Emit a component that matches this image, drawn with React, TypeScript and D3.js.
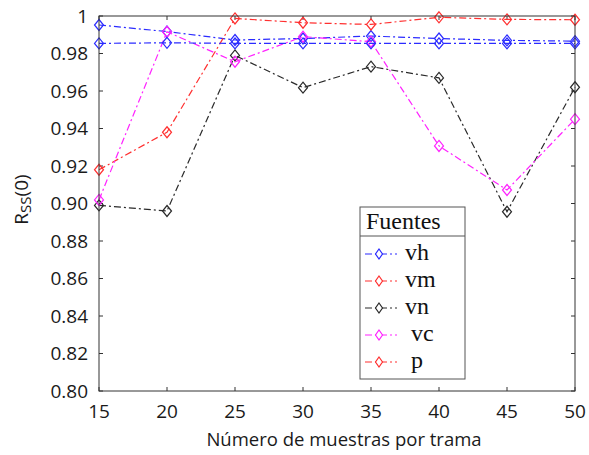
import React from "react";
import * as d3 from "d3";

const xValues = [15, 20, 25, 30, 35, 40, 45, 50];
const yTicks = [0.8, 0.82, 0.84, 0.86, 0.88, 0.9, 0.92, 0.94, 0.96, 0.98, 1.0];

const vh = [0.9952, 0.9917, 0.9872, 0.988, 0.9893, 0.988, 0.987, 0.9866];
const vm = [0.918, 0.938, 0.9987, 0.9964, 0.9955, 0.9993, 0.9982, 0.998];
const vn = [0.899, 0.896, 0.979, 0.9618, 0.973, 0.967, 0.8956, 0.962];
const vc = [0.9019, 0.9916, 0.9756, 0.989, 0.9863, 0.9307, 0.9072, 0.945];
const p = [0.9854, 0.9857, 0.9854, 0.9854, 0.9854, 0.9854, 0.9854, 0.9854];

const seriesNames = ["vh", "vm", "vn", "vc", "p"];
const seriesValues = [vh, vm, vn, vc, p];
const lineColors = ["#2b2bff", "#ff3030", "#2a2a2a", "#ff22ff", "#2b2bff"];
const legendLabels = ["vh", "vm", "vn", " vc", " p"];
const legendColors = ["#2b2bff", "#ff3030", "#2a2a2a", "#ff22ff", "#ff3030"];

const W = 589;
const H = 455;
const margin = { top: 16, right: 14, bottom: 64, left: 99 };
const sans = "'Open Sans', sans-serif";
const serif = "'Liberation Serif', 'Times New Roman', serif";
const dash = "7,3,2,3";
const diamond = (w: number, h: number) => `M0,${-h}L${w},0L0,${h}L${-w},0Z`;

export default function App() {
  const x = d3.scaleLinear().domain([15, 50]).range([margin.left, W - margin.right]);
  const y = d3.scaleLinear().domain([0.8, 1.0]).range([H - margin.bottom, margin.top]);
  const [x0, x1] = x.range();
  const [y0, y1] = y.range();
  const line = d3
    .line<number>()
    .x((_, i) => x(xValues[i]))
    .y((d) => y(d));

  // legend box
  const lg = { x: 360, y: 207, w: 105, h: 172, titleH: 29, row: 27 };

  return (
    <svg
      width={W}
      height={H}
      style={{ position: "fixed", left: 0, top: 0, background: "#fff" }}
    >
      <rect width={W} height={H} fill="#fff" />

      {/* ticks, inward on all four sides */}
      <g stroke="#333" strokeWidth={1}>
        {xValues.map((v) => (
          <g key={v}>
            <line x1={x(v)} x2={x(v)} y1={y0} y2={y0 - 4} />
            <line x1={x(v)} x2={x(v)} y1={y1} y2={y1 + 4} />
          </g>
        ))}
        {yTicks.map((v) => (
          <g key={v}>
            <line x1={x0} x2={x0 + 4} y1={y(v)} y2={y(v)} />
            <line x1={x1} x2={x1 - 4} y1={y(v)} y2={y(v)} />
          </g>
        ))}
      </g>

      {/* series */}
      {seriesValues.map((vals, si) => (
        <g key={seriesNames[si]}>
          <path
            d={line(vals) || ""}
            fill="none"
            stroke={lineColors[si]}
            strokeWidth={1.2}
            strokeDasharray={dash}
          />
          {vals.map((v, i) => (
            <path
              key={i}
              d={diamond(4.5, 5.5)}
              transform={`translate(${x(xValues[i])},${y(v)})`}
              fill="none"
              stroke={lineColors[si]}
              strokeWidth={1.2}
            />
          ))}
        </g>
      ))}

      {/* box */}
      <rect
        x={x0}
        y={y1}
        width={x1 - x0}
        height={y0 - y1}
        fill="none"
        stroke="#333"
        strokeWidth={1}
      />

      {/* tick labels */}
      <g fontFamily={sans} fontSize={19} fill="#1a1a1a">
        {xValues.map((v) => (
          <text key={v} x={x(v)} y={y0 + 27} textAnchor="middle">
            {v}
          </text>
        ))}
        {yTicks.map((v) => (
          <text key={v} x={x0 - 11} y={y(v)} dy="0.36em" textAnchor="end">
            {v === 1 ? "1" : v.toFixed(2)}
          </text>
        ))}
        <text x={(x0 + x1) / 2 + 7} y={446} textAnchor="middle" fontSize={18.5}>
          Número de muestras por trama
        </text>
        <text transform={`translate(28,${(y0 + y1) / 2 - 4}) rotate(-90)`} textAnchor="middle">
          R
          <tspan fontSize={15} dy={3}>
            SS
          </tspan>
          <tspan dy={-3}>(0)</tspan>
        </text>
      </g>

      {/* legend */}
      <g>
        <rect x={lg.x} y={lg.y} width={lg.w} height={lg.h} fill="#fff" stroke="#555" strokeWidth={1} />
        <line x1={lg.x} x2={lg.x + lg.w} y1={lg.y + lg.titleH} y2={lg.y + lg.titleH} stroke="#555" />
        <text x={lg.x + 6} y={lg.y + 22} fontFamily={serif} fontSize={24} fill="#111">
          Fuentes
        </text>
        {legendLabels.map((lab, i) => {
          const cy = lg.y + lg.titleH + 18 + i * lg.row;
          return (
            <g key={i}>
              <line
                x1={lg.x + 5}
                x2={lg.x + 37}
                y1={cy}
                y2={cy}
                stroke={legendColors[i]}
                strokeWidth={1.2}
                strokeDasharray={dash}
              />
              <path
                d={diamond(3.5, 5)}
                transform={`translate(${lg.x + 19},${cy})`}
                fill="#fff"
                stroke={legendColors[i]}
                strokeWidth={1.2}
              />
              <text
                x={lg.x + 45}
                y={cy + 6}
                fontFamily={serif}
                fontSize={24}
                fill="#111"
                style={{ whiteSpace: "pre" }}
              >
                {lab}
              </text>
            </g>
          );
        })}
      </g>
    </svg>
  );
}
